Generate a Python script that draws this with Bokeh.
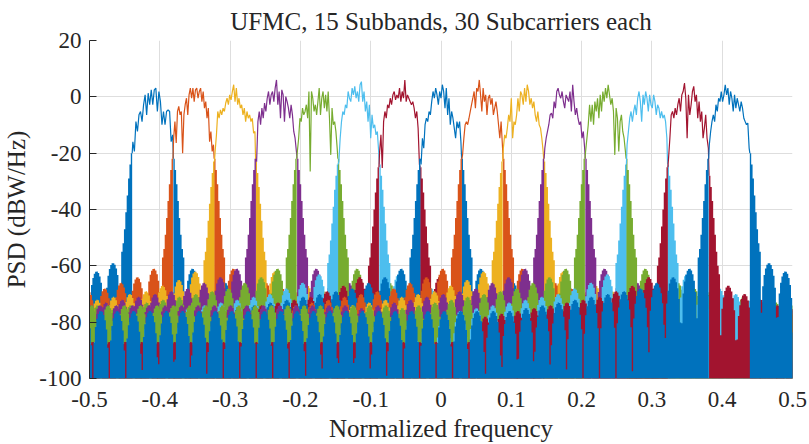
import numpy as np
from bokeh.plotting import figure
from bokeh.models import FixedTicker, Range1d
from bokeh.embed import file_html
from bokeh.resources import INLINE

# ---------------- data ----------------
title_text = "UFMC, 15 Subbands, 30 Subcarriers each"
x_label = "Normalized frequency"
y_label = "PSD (dBW/Hz)"

num_fft = 512          # FFT points
subband_size = 30      # subcarriers per subband
num_subbands = 15
filter_len = 43        # Dolph-Chebyshev filter length (sets side-lobe spacing)

band_centers = [-0.410, -0.352, -0.293, -0.234, -0.176, -0.117, -0.059, 0.0,
                0.059, 0.117, 0.176, 0.234, 0.293, 0.352, 0.410]

band_colors = ["#0072BD", "#D95319", "#EDB120", "#7E2F8E", "#77AC30", "#4DBEEE", "#A2142F",
               "#0072BD", "#D95319", "#EDB120", "#7E2F8E", "#77AC30", "#4DBEEE", "#A2142F",
               "#0072BD"]

# in-band PSD (dB) of each subband, left edge -> right edge
passband_db = [
    [-16, -19.4, -8.8, -12.3, -6.4, -5.2, -8.8, -2.8, 0.7, -6.4, 1.3, -2.8, 2.5, -2.8, 2.5, 3.1, -5.2, 1.9, -1.7, -9.9, -5.2, -9.9, -5.2, -4.6, -5.2, -15.9, -13.5],
    [-14.7, -8.8, -16.4, -5.2, -3.4, -6.4, -5.2, -20, -6.4, -2.8, -0.5, -6.4, 0.7, 3.1, -0.5, 3.1, -1.7, 2.5, 3.1, -0.5, 1.9, 3.1, -1.7, 1.9, -4.0, -1.7, -7.6, -4.0, -15.9, -12.3, -19.4, -17],
    [-19.4, -13.5, -5.2, -7.6, -4.6, -6.4, -4.0, -5.2, -2.2, -0.5, -2.8, 0.7, -1.1, 1.9, 4.3, -1.7, 3.1, -2.8, -0.5, -4.0, -2.8, -6.4, -4.0, -8.8, -5.2, -7.6, -6.4, -8.8, -7.6, -12.9, -12.3],
    [-23, -8.8, -5.2, -9.9, -4, -7.6, -2.2, -5.2, -0.5, 1.9, -2.8, 0.7, 1.9, -1.7, 3.1, 6, -2.8, 1.9, -7.6, 2.5, 0.7, -8.8, 0.1, -1.7, -4, -7.6, -2.8, -6.4, -12.3, -14.7, -19.4],
    [-19.4, -14.7, -7.6, -8.8, -4, -6.4, -5.2, -2.8, -7.6, 1.9, -26.5, 1.9, -0.5, -5.2, -2.8, -6.4, -1.7, 3.1, -6.4, -0.5, 1.9, -4, 0.7, -5.2, 1.9, -7.6, -20.6, -4, -9.9, -8.8, -12.3, -18.2],
    [-23, -14.7, -8.8, -5.2, -6.4, -2.8, -4.0, 1.9, -0.5, -1.7, 3.1, 0.7, 3.7, -0.5, 1.9, -1.7, 4.3, 5.4, -1.7, 1.9, -5.2, -1.7, -8.8, -2.8, -14.7, -6.4, -11.1, -9.9, -13.5, -12.3, -19.4],
    [-19.4, -13.5, -25.3, -8.8, -5.2, -7.6, -2.8, -4, -0.5, -2.8, 0.7, 1.9, -1.1, 0.7, -0.5, 3.1, -1.7, 1.9, -0.5, 6, -1.7, 0.7, -0.5, -1.7, -2.8, -1.7, -4, -7.6, -5.2, -11.1, -24],
    [-24, -14.7, -18.2, -9.9, -7.6, -8.8, -5.2, -6.4, -1.7, 1.9, -0.5, 3.1, 0.7, -2.8, 1.9, -0.5, 4.3, 1.9, -4, 3.1, -6.4, -0.5, -9.9, -5.2, -7.6, -11.1, -14.7, -8.8, -11.1, -8.8, -15.9],
    [-20.6, -14.7, -9.9, -8.8, -9.9, -7.6, -5.2, -2.8, -0.5, 1.9, -4, 3.1, 1.9, 6, 0.7, -5.2, 3.1, -1.7, 0.7, -6.4, -0.5, 0.7, -2.8, -0.5, -6.4, -4, -1.7, -5.2, -9.9, -14.7, -8.8, -17],
    [-18.2, -13.5, -14.7, -11.1, -6.4, -8.8, -0.5, -14.7, -8.8, -9.9, -6.4, -0.5, -5.2, 1.9, 0.7, -2.8, 3.1, -1.7, 4.3, 1.9, -2.8, -0.5, -4, -1.7, -6.4, -8.8, -5.2, -9.9, -11.1, -14.7, -19.4],
    [-18.2, -14.7, -12.3, -9.9, -6.4, -5.8, -7.6, -1.7, -4, 1.9, 3.1, 0.7, -0.5, 1.9, -1.7, -4, 0.7, -0.5, -1.7, 1.9, -5.2, 4.3, -1.7, -6.4, -4, -7.6, -9.9, -8.8, -14.7, -12.3, -18.2],
    [-19.4, -14.7, -9.9, -2.8, -8.8, -2.8, -9.9, -1.7, -5.2, -0.5, -7.6, 0.7, -5.2, 1.9, -1.7, 3.1, -0.5, 4.3, 0.7, -2.8, -0.5, -5.2, -20.6, -4, -7.6, -19.4, -8.8, -6.4, -12.3, -14.7, -19.4],
    [-17, -12.3, -7.6, -5.2, -8.8, -5.2, -2.8, -6.4, -0.5, 1.9, -1.7, -8.8, 0.7, -2.8, 1.9, -0.5, -5.2, 0.7, -2.8, -4, 0.7, -1.7, -6.4, -2.8, -4, -7.6, -5.2, -7.6, -6.4, -8.8, -14.7],
    [-21.8, -14.7, -6.4, -5.2, -7.6, -4, -6.4, -2.8, -0.5, -5.2, 0.7, 1.9, 4.9, -0.5, -14.7, 0.7, -6.4, -2.8, 1.9, 3.7, -1.7, 0.7, -7.6, -1.7, -8.8, -5.2, -14.7, -11.1, -6.4, -14.7, -18.2],
    [-17, -12.3, -8.8, -6.4, -8.8, -2.8, -5.2, -0.5, -1.7, 1.9, -1.7, 0.7, 4.3, 0.7, 3.1, -2.8, 1.9, -0.5, -5.2, 0.7, -4, -0.5, -2.8, -5.2, -1.7, -4, -7.6, -8.8, -9.9, -9.3, -18.2],
]

# transition skirt just outside a subband edge (dB per FFT bin, going outward)
skirt_db = [-22, -26, -31, -37, -43, -49, -54, -57]
# peaks of the side lobes after the skirt, going outward
near_lobes_db = [-61, -64, -66, -68, -69, -70, -71, -72, -73, -74, -75]
# level of the remaining far side lobes of each subband
far_lobe_db = [-75, -75, -77, -75, -74, -79, -87, -76, -75, -77, -74, -74, -79, -87, -76]
# level shift of the skirt/near lobes on the left / right of each subband
left_offset_db = [2, 0, -1, 0, 0, -2, -3, 0, 0, -1, 0, 0, -2, -3, 0]
right_offset_db = [0, 0, -1, 0, 0, -2, -3, 0, 0, -1, 0, 0, -2, -6, 2]

x_ticks = [-0.5, -0.4, -0.3, -0.2, -0.1, 0.0, 0.1, 0.2, 0.3, 0.4, 0.5]
x_tick_labels = ["-0.5", "-0.4", "-0.3", "-0.2", "-0.1", "0", "0.1", "0.2", "0.3", "0.4", "0.5"]
y_ticks = [-100, -80, -60, -40, -20, 0, 20]
y_tick_labels = ["-100", "-80", "-60", "-40", "-20", "0", "20"]

# ---------------- derived ----------------
df = 1.0 / num_fft
lobe_w = 1.0 / filter_len
half_bw = subband_size / num_fft / 2.0


def side(edge, direction, offset, floor):
    starts, vals = [], []
    j = 0
    n_sk = len(skirt_db)
    while True:
        if direction > 0:
            a = edge + j * df
            if a >= 0.5:
                break
        else:
            a = edge - (j + 1) * df
            if a + df <= -0.5:
                break
        if j < n_sk:
            v = skirt_db[j] + offset
        else:
            d = (j - n_sk) * df + df / 2.0
            t = d / lobe_w
            m = int(t)
            u = t - m
            peak = near_lobes_db[m] + offset if m < len(near_lobes_db) else floor
            v = peak + 20.0 * np.log10(max(np.sin(np.pi * u), 1e-6))
        starts.append(a)
        vals.append(max(v, -100.0))
        j += 1
    order = np.argsort(starts)
    xs = list(np.array(starts)[order])
    ys = list(np.array(vals)[order])
    xs.append(xs[-1] + df)
    ys.append(ys[-1])
    return xs, ys


p = figure(width=809, height=444, output_backend="svg", toolbar_location=None,
           x_range=Range1d(-0.5, 0.5), y_range=Range1d(-100, 20),
           min_border_left=87, min_border_right=17, min_border_top=40, min_border_bottom=66)

for k in range(num_subbands):
    c = band_centers[k]
    col = band_colors[k]
    le, re = c - half_bw, c + half_bw
    xs, ys = side(le, -1, left_offset_db[k], far_lobe_db[k])
    p.varea_step(x=xs, y1=[-100] * len(xs), y2=ys, step_mode="after", fill_color=col)
    xs, ys = side(re, +1, right_offset_db[k], far_lobe_db[k])
    p.varea_step(x=xs, y1=[-100] * len(xs), y2=ys, step_mode="after", fill_color=col)
    pb = passband_db[k]
    n = len(pb)
    px = list(np.linspace(le + df / 2, re - df / 2, n))
    lx = [le] + px + [re]
    ly = [skirt_db[0] + left_offset_db[k]] + pb + [skirt_db[0] + right_offset_db[k]]
    p.line(lx, ly, line_color=col, line_width=1.2)

# ---------------- styling ----------------
serif = "Liberation Serif"
ink = "#262626"
p.title.text = title_text
p.title.align = "center"
p.title.vertical_align = "top"
p.title.text_font = serif
p.title.text_font_size = "25px"
p.title.text_font_style = "normal"
p.title.text_color = ink
p.title.standoff = 8

p.xaxis.ticker = FixedTicker(ticks=x_ticks)
p.yaxis.ticker = FixedTicker(ticks=y_ticks)
p.xaxis.major_label_overrides = {t: s for t, s in zip(x_ticks, x_tick_labels)}
p.yaxis.major_label_overrides = {t: s for t, s in zip(y_ticks, y_tick_labels)}
p.xaxis.axis_label = x_label
p.yaxis.axis_label = y_label
for ax in (p.xaxis, p.yaxis):
    ax.axis_label_text_font = serif
    ax.axis_label_text_font_size = "25px"
    ax.axis_label_text_font_style = "normal"
    ax.axis_label_text_color = ink
    ax.major_label_text_font = serif
    ax.major_label_text_font_size = "23px"
    ax.major_label_text_color = ink
    ax.minor_tick_line_color = None

p.xaxis.axis_line_color = None
p.xaxis.major_tick_line_color = None
p.xaxis.major_label_standoff = 7
p.xaxis.axis_label_standoff = 5
p.yaxis.axis_line_color = ink
p.yaxis.major_tick_line_color = ink
p.yaxis.major_tick_in = 7
p.yaxis.major_tick_out = 0
p.yaxis.major_label_standoff = 8
p.yaxis.axis_label_standoff = 6

p.xgrid.ticker = FixedTicker(ticks=x_ticks)
p.ygrid.ticker = FixedTicker(ticks=y_ticks)
p.grid.grid_line_color = "#dedede"
p.grid.grid_line_width = 1
p.outline_line_color = None
p.background_fill_color = "white"
p.border_fill_color = "white"

open("out.html", "w").write(file_html(p, INLINE))
